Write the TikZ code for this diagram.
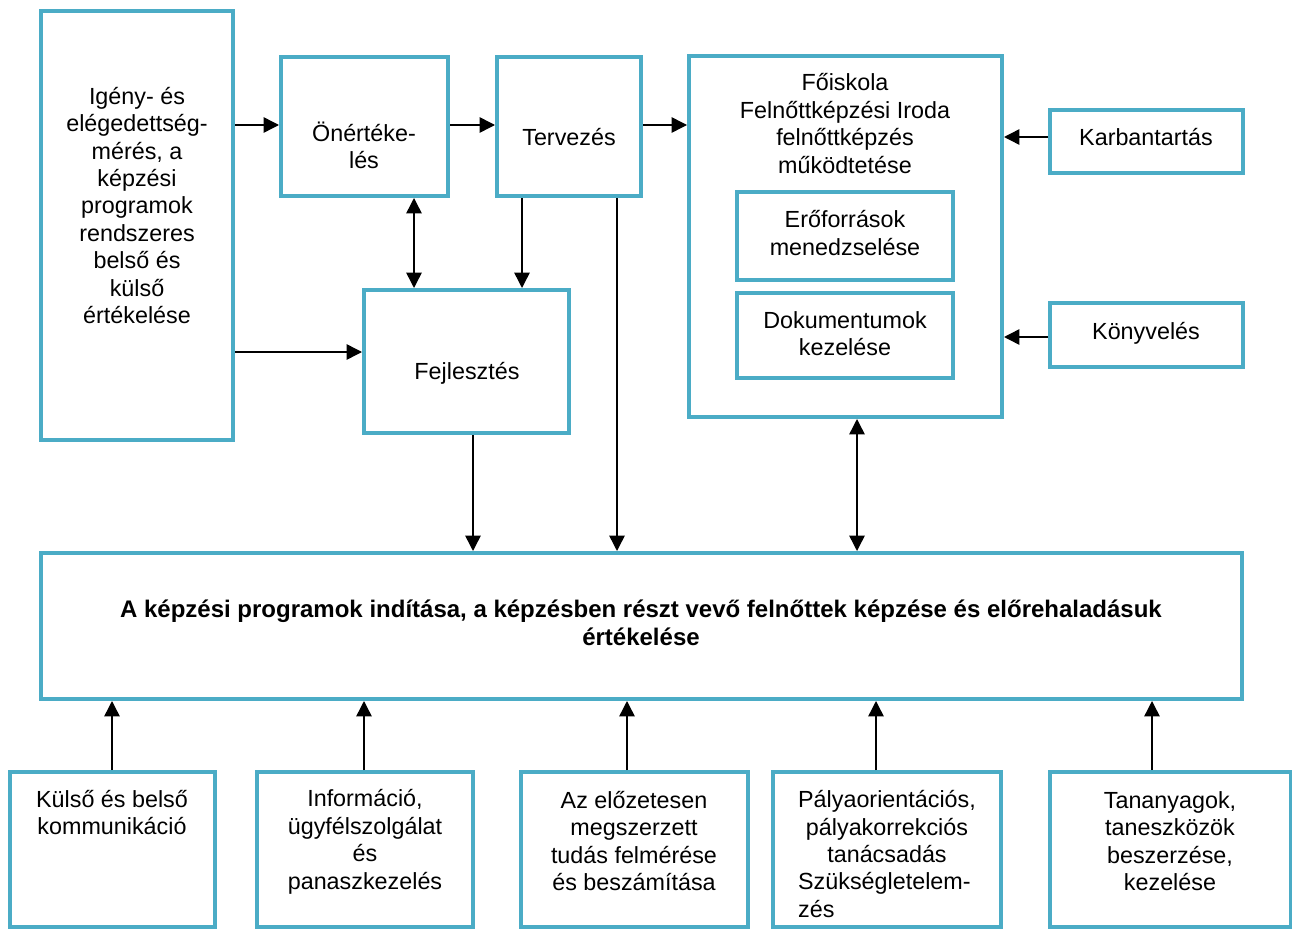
\documentclass[tikz,border=0pt]{standalone}
\usepackage{fontspec}
\setmainfont{Liberation Sans}
\usetikzlibrary{arrows.meta}
\definecolor{boxblue}{RGB}{75,172,198}
\newcommand\mybox[5]{\node[box, minimum width={(#4-#2)*0.75pt}, minimum height={(#5-#3)*0.75pt}] (#1) at ({(#2+#4)/2},{(#3+#5)/2}) {};}
\tikzset{
  box/.style={draw=boxblue, line width=3pt, fill=white, inner sep=0pt},
  txt/.style={font=\fontsize{17.5}{20.6}\selectfont, align=center, inner sep=0pt},
  arr/.style={line width=1.1pt, -{Triangle[length=11.5pt,width=11.5pt]}},
  darr/.style={line width=1.1pt, {Triangle[length=11.5pt,width=11.5pt]}-{Triangle[length=11.5pt,width=11.5pt]}}
}
\begin{document}
\begin{tikzpicture}[x=0.75pt,y=-0.75pt]
\useasboundingbox (0,0) rectangle (1292,931);
% boxes
\mybox{L}{41}{11}{233}{440}
\mybox{O}{281}{57}{448}{196}
\mybox{T}{497}{57}{641}{196}
\mybox{F}{364}{290}{569}{433}
\mybox{K}{689}{56}{1002}{417}
\mybox{E}{737}{192}{953}{280}
\mybox{D}{737}{293}{953}{378}
\mybox{Ka}{1050}{110}{1243}{173}
\mybox{Ko}{1050}{303}{1243}{367}
\mybox{M}{41}{553}{1242}{699}
\mybox{B1}{10}{772}{215}{927}
\mybox{B2}{257}{772}{473}{927}
\mybox{B3}{521}{772}{748}{927}
\mybox{B4}{773}{772}{1001}{927}
\mybox{B5}{1050}{772}{1291}{927}
% texts
\node[txt] (tL) at (137,205.5) {Igény- és\\elégedettség-\\mérés, a\\képzési\\programok\\rendszeres\\belső és\\külső\\értékelése};
\node[txt] (tO) at (364,145.5) {Önértéke-\\lés};
\node[txt] (tT) at (569,137) {Tervezés};
\node[txt] (tF) at (467,373) {Fejlesztés};
\node[txt] (tK) at (845,123.5) {Főiskola\\Felnőttképzési Iroda\\felnőttképzés\\működtetése};
\node[txt] (tE) at (845,233) {Erőforrások\\menedzselése};
\node[txt] (tD) at (845,333.5) {Dokumentumok\\kezelése};
\node[txt] (tKa) at (1146,137) {Karbantartás};
\node[txt] (tKo) at (1146,333) {Könyvelés};
\node[txt, font=\fontsize{18}{20.6}\selectfont\bfseries] (tM) at (641,623) {A képzési programok indítása, a képzésben részt vevő felnőttek képzése és előrehaladásuk\\értékelése};
\node[txt] (tB1) at (112,812.5) {Külső és belső\\kommunikáció};
\node[txt] (tB2) at (365,842) {Információ,\\ügyfélszolgálat\\és\\panaszkezelés};
\node[txt] (tB3) at (634,841) {Az előzetesen\\megszerzett\\tudás felmérése\\és beszámítása};
\node[txt] (tB4) at (887,857) {\begin{tabular}{@{}c@{}}Pályaorientációs,\\pályakorrekciós\\tanácsadás\\\multicolumn{1}{@{}l@{}}{Szükségletelem-}\\\multicolumn{1}{@{}l@{}}{zés}\end{tabular}};
\node[txt] (tB5) at (1170,841) {Tananyagok,\\taneszközök\\beszerzése,\\kezelése};
% connectors
\draw[arr] (L.east |- 0,125) -- (O.west |- 0,125);
\draw[arr] (L.east |- 0,352) -- (F.west |- 0,352);
\draw[arr] (O.east |- 0,125) -- (T.west |- 0,125);
\draw[arr] (T.east |- 0,125) -- (K.west |- 0,125);
\draw[darr] (O.south -| 414,0) -- (F.north -| 414,0);
\draw[arr] (T.south -| 522,0) -- (F.north -| 522,0);
\draw[arr] (T.south -| 617,0) -- (M.north -| 617,0);
\draw[arr] (F.south -| 473,0) -- (M.north -| 473,0);
\draw[darr] (M.north -| 857,0) -- (K.south -| 857,0);
\draw[arr] (Ka.west |- 0,137) -- (K.east |- 0,137);
\draw[arr] (Ko.west |- 0,337) -- (K.east |- 0,337);
\draw[arr] (B1.north -| 112,0) -- (M.south -| 112,0);
\draw[arr] (B2.north -| 364,0) -- (M.south -| 364,0);
\draw[arr] (B3.north -| 627,0) -- (M.south -| 627,0);
\draw[arr] (B4.north -| 876,0) -- (M.south -| 876,0);
\draw[arr] (B5.north -| 1152,0) -- (M.south -| 1152,0);
\end{tikzpicture}
\end{document}
